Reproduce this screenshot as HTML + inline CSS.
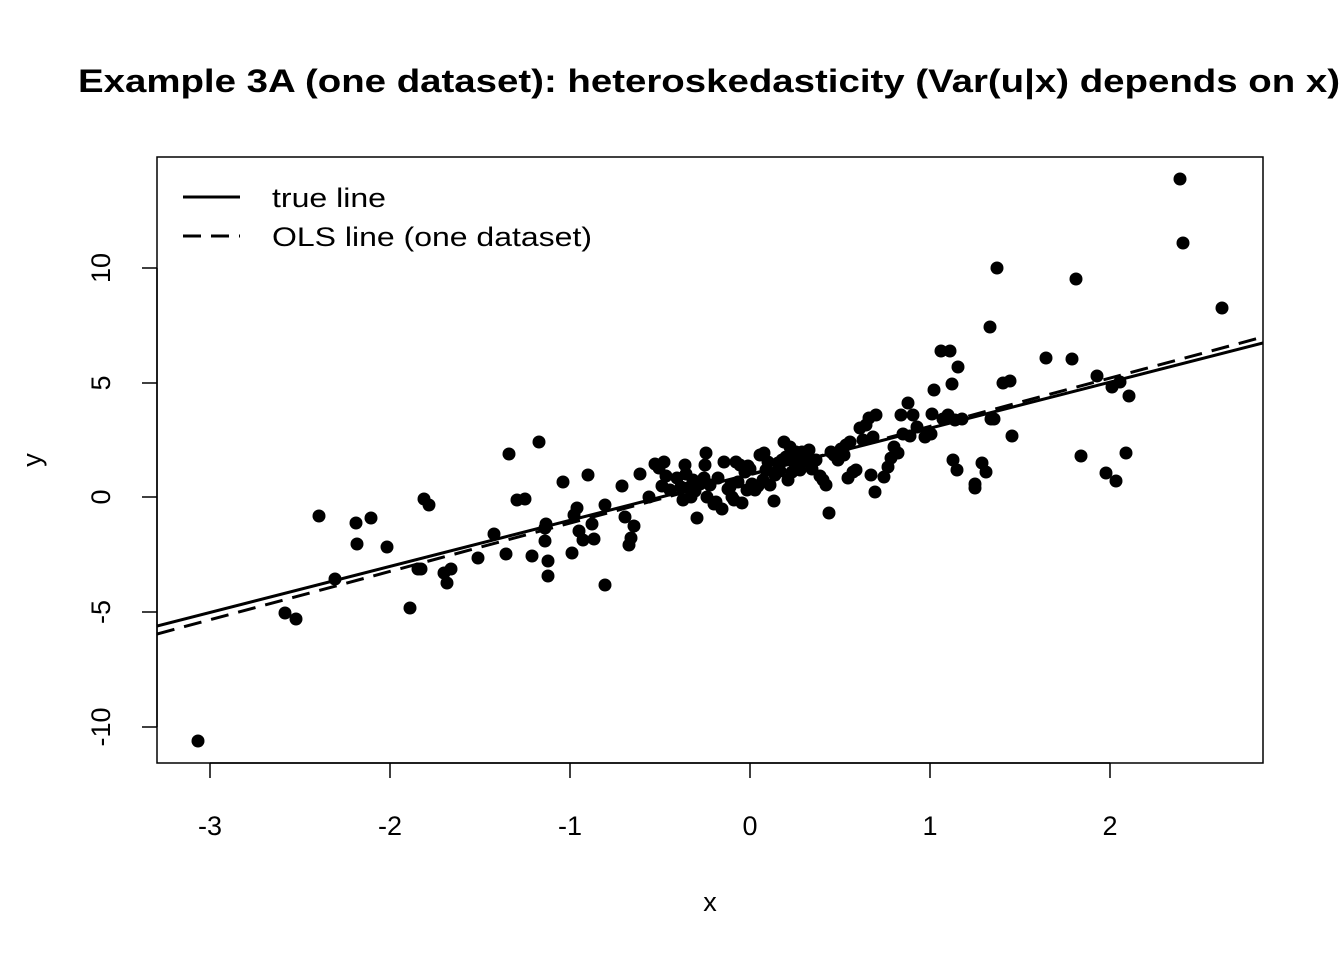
<!DOCTYPE html>
<html><head><meta charset="utf-8"><style>
html,body{margin:0;padding:0;background:#fff}
svg text{font-family:"Liberation Sans",Arial,sans-serif;fill:#000}
</style></head><body>
<svg width="1344" height="960" viewBox="0 0 1344 960" xmlns="http://www.w3.org/2000/svg">
<rect width="1344" height="960" fill="#fff"/>
<text x="78" y="92" font-size="32" font-weight="bold" textLength="1262" lengthAdjust="spacingAndGlyphs">Example 3A (one dataset): heteroskedasticity (Var(u|x) depends on x)</text>
<rect x="157" y="157" width="1106" height="606" fill="none" stroke="#000" stroke-width="1.5"/>
<g stroke="#000" stroke-width="1.5">
<line x1="210" y1="763" x2="1110" y2="763"/>
<line x1="210" y1="763" x2="210" y2="778"/><line x1="390" y1="763" x2="390" y2="778"/><line x1="570" y1="763" x2="570" y2="778"/><line x1="750" y1="763" x2="750" y2="778"/><line x1="930" y1="763" x2="930" y2="778"/><line x1="1110" y1="763" x2="1110" y2="778"/>
<line x1="157" y1="268" x2="157" y2="727"/>
<line x1="142" y1="268" x2="157" y2="268"/><line x1="142" y1="383" x2="157" y2="383"/><line x1="142" y1="497" x2="157" y2="497"/><line x1="142" y1="612" x2="157" y2="612"/><line x1="142" y1="727" x2="157" y2="727"/>
</g>
<g font-size="27" text-anchor="middle">
<text x="210" y="835">-3</text><text x="390" y="835">-2</text><text x="570" y="835">-1</text><text x="750" y="835">0</text><text x="930" y="835">1</text><text x="1110" y="835">2</text>
<text x="710" y="911">x</text>
<text transform="translate(110,268) rotate(-90)">10</text>
<text transform="translate(110,383) rotate(-90)">5</text>
<text transform="translate(110,497) rotate(-90)">0</text>
<text transform="translate(110,612) rotate(-90)">-5</text>
<text transform="translate(110,727) rotate(-90)">-10</text>
<text transform="translate(41,460) rotate(-90)">y</text>
</g>
<clipPath id="c"><rect x="157" y="157" width="1106" height="606"/></clipPath>
<g clip-path="url(#c)" stroke="#000" stroke-width="3">
<line x1="157" y1="626" x2="1263" y2="343"/>
<line x1="157" y1="634" x2="1263" y2="337" stroke-dasharray="18,10"/>
</g>
<g fill="#000">
<circle cx="198" cy="741" r="6.5"/><circle cx="285" cy="613" r="6.5"/><circle cx="296" cy="619" r="6.5"/><circle cx="319" cy="516" r="6.5"/><circle cx="335" cy="579" r="6.5"/><circle cx="356" cy="523" r="6.5"/><circle cx="357" cy="544" r="6.5"/><circle cx="371" cy="518" r="6.5"/><circle cx="387" cy="547" r="6.5"/><circle cx="410" cy="608" r="6.5"/><circle cx="418" cy="569" r="6.5"/><circle cx="421" cy="569" r="6.5"/><circle cx="424" cy="499" r="6.5"/><circle cx="429" cy="505" r="6.5"/><circle cx="444" cy="573" r="6.5"/><circle cx="447" cy="583" r="6.5"/><circle cx="451" cy="569" r="6.5"/><circle cx="478" cy="558" r="6.5"/><circle cx="494" cy="534" r="6.5"/><circle cx="506" cy="554" r="6.5"/><circle cx="509" cy="454" r="6.5"/><circle cx="517" cy="500" r="6.5"/><circle cx="525" cy="499" r="6.5"/><circle cx="532" cy="556" r="6.5"/><circle cx="539" cy="442" r="6.5"/><circle cx="545" cy="528" r="6.5"/><circle cx="545" cy="541" r="6.5"/><circle cx="546" cy="524" r="6.5"/><circle cx="548" cy="561" r="6.5"/><circle cx="548" cy="576" r="6.5"/><circle cx="563" cy="482" r="6.5"/><circle cx="572" cy="553" r="6.5"/><circle cx="574" cy="515" r="6.5"/><circle cx="577" cy="508" r="6.5"/><circle cx="579" cy="531" r="6.5"/><circle cx="583" cy="540" r="6.5"/><circle cx="588" cy="475" r="6.5"/><circle cx="592" cy="524" r="6.5"/><circle cx="594" cy="539" r="6.5"/><circle cx="605" cy="585" r="6.5"/><circle cx="605" cy="505" r="6.5"/><circle cx="622" cy="486" r="6.5"/><circle cx="625" cy="517" r="6.5"/><circle cx="629" cy="545" r="6.5"/><circle cx="631" cy="538" r="6.5"/><circle cx="634" cy="526" r="6.5"/><circle cx="640" cy="474" r="6.5"/><circle cx="649" cy="497" r="6.5"/><circle cx="655" cy="464" r="6.5"/><circle cx="659" cy="468" r="6.5"/><circle cx="662" cy="486" r="6.5"/><circle cx="664" cy="462" r="6.5"/><circle cx="666" cy="476" r="6.5"/><circle cx="670" cy="490" r="6.5"/><circle cx="677" cy="478" r="6.5"/><circle cx="681" cy="487" r="6.5"/><circle cx="683" cy="500" r="6.5"/><circle cx="685" cy="465" r="6.5"/><circle cx="686" cy="474" r="6.5"/><circle cx="688" cy="488" r="6.5"/><circle cx="691" cy="497" r="6.5"/><circle cx="693" cy="480" r="6.5"/><circle cx="695" cy="491" r="6.5"/><circle cx="697" cy="518" r="6.5"/><circle cx="700" cy="484" r="6.5"/><circle cx="704" cy="478" r="6.5"/><circle cx="705" cy="465" r="6.5"/><circle cx="706" cy="453" r="6.5"/><circle cx="707" cy="497" r="6.5"/><circle cx="710" cy="485" r="6.5"/><circle cx="714" cy="504" r="6.5"/><circle cx="716" cy="502" r="6.5"/><circle cx="718" cy="478" r="6.5"/><circle cx="722" cy="509" r="6.5"/><circle cx="724" cy="462" r="6.5"/><circle cx="728" cy="489" r="6.5"/><circle cx="730" cy="487" r="6.5"/><circle cx="732" cy="497" r="6.5"/><circle cx="734" cy="500" r="6.5"/><circle cx="736" cy="462" r="6.5"/><circle cx="738" cy="482" r="6.5"/><circle cx="740" cy="465" r="6.5"/><circle cx="742" cy="503" r="6.5"/><circle cx="745" cy="472" r="6.5"/><circle cx="747" cy="490" r="6.5"/><circle cx="748" cy="466" r="6.5"/><circle cx="750" cy="469" r="6.5"/><circle cx="752" cy="484" r="6.5"/><circle cx="755" cy="490" r="6.5"/><circle cx="758" cy="486" r="6.5"/><circle cx="760" cy="455" r="6.5"/><circle cx="763" cy="480" r="6.5"/><circle cx="764" cy="453" r="6.5"/><circle cx="766" cy="470" r="6.5"/><circle cx="768" cy="462" r="6.5"/><circle cx="770" cy="485" r="6.5"/><circle cx="774" cy="501" r="6.5"/><circle cx="775" cy="475" r="6.5"/><circle cx="778" cy="463" r="6.5"/><circle cx="780" cy="471" r="6.5"/><circle cx="782" cy="460" r="6.5"/><circle cx="784" cy="442" r="6.5"/><circle cx="786" cy="457" r="6.5"/><circle cx="788" cy="480" r="6.5"/><circle cx="790" cy="447" r="6.5"/><circle cx="792" cy="472" r="6.5"/><circle cx="794" cy="462" r="6.5"/><circle cx="796" cy="452" r="6.5"/><circle cx="798" cy="460" r="6.5"/><circle cx="800" cy="470" r="6.5"/><circle cx="802" cy="452" r="6.5"/><circle cx="804" cy="456" r="6.5"/><circle cx="807" cy="461" r="6.5"/><circle cx="809" cy="450" r="6.5"/><circle cx="812" cy="469" r="6.5"/><circle cx="816" cy="460" r="6.5"/><circle cx="820" cy="476" r="6.5"/><circle cx="823" cy="480" r="6.5"/><circle cx="826" cy="485" r="6.5"/><circle cx="829" cy="513" r="6.5"/><circle cx="831" cy="452" r="6.5"/><circle cx="834" cy="455" r="6.5"/><circle cx="838" cy="460" r="6.5"/><circle cx="841" cy="449" r="6.5"/><circle cx="844" cy="455" r="6.5"/><circle cx="846" cy="445" r="6.5"/><circle cx="848" cy="478" r="6.5"/><circle cx="850" cy="442" r="6.5"/><circle cx="853" cy="472" r="6.5"/><circle cx="856" cy="470" r="6.5"/><circle cx="860" cy="428" r="6.5"/><circle cx="863" cy="440" r="6.5"/><circle cx="866" cy="425" r="6.5"/><circle cx="869" cy="418" r="6.5"/><circle cx="871" cy="475" r="6.5"/><circle cx="873" cy="437" r="6.5"/><circle cx="875" cy="492" r="6.5"/><circle cx="876" cy="415" r="6.5"/><circle cx="884" cy="477" r="6.5"/><circle cx="888" cy="467" r="6.5"/><circle cx="891" cy="458" r="6.5"/><circle cx="894" cy="447" r="6.5"/><circle cx="898" cy="453" r="6.5"/><circle cx="901" cy="415" r="6.5"/><circle cx="903" cy="434" r="6.5"/><circle cx="908" cy="403" r="6.5"/><circle cx="910" cy="436" r="6.5"/><circle cx="913" cy="415" r="6.5"/><circle cx="917" cy="427" r="6.5"/><circle cx="925" cy="437" r="6.5"/><circle cx="931" cy="434" r="6.5"/><circle cx="932" cy="414" r="6.5"/><circle cx="934" cy="390" r="6.5"/><circle cx="941" cy="351" r="6.5"/><circle cx="943" cy="419" r="6.5"/><circle cx="948" cy="415" r="6.5"/><circle cx="950" cy="351" r="6.5"/><circle cx="952" cy="384" r="6.5"/><circle cx="953" cy="460" r="6.5"/><circle cx="955" cy="420" r="6.5"/><circle cx="957" cy="470" r="6.5"/><circle cx="958" cy="367" r="6.5"/><circle cx="962" cy="419" r="6.5"/><circle cx="975" cy="488" r="6.5"/><circle cx="975" cy="484" r="6.5"/><circle cx="982" cy="463" r="6.5"/><circle cx="986" cy="472" r="6.5"/><circle cx="990" cy="327" r="6.5"/><circle cx="991" cy="419" r="6.5"/><circle cx="994" cy="419" r="6.5"/><circle cx="997" cy="268" r="6.5"/><circle cx="1003" cy="383" r="6.5"/><circle cx="1010" cy="381" r="6.5"/><circle cx="1012" cy="436" r="6.5"/><circle cx="1046" cy="358" r="6.5"/><circle cx="1072" cy="359" r="6.5"/><circle cx="1076" cy="279" r="6.5"/><circle cx="1081" cy="456" r="6.5"/><circle cx="1097" cy="376" r="6.5"/><circle cx="1106" cy="473" r="6.5"/><circle cx="1112" cy="387" r="6.5"/><circle cx="1116" cy="481" r="6.5"/><circle cx="1120" cy="382" r="6.5"/><circle cx="1126" cy="453" r="6.5"/><circle cx="1129" cy="396" r="6.5"/><circle cx="1180" cy="179" r="6.5"/><circle cx="1183" cy="243" r="6.5"/><circle cx="1222" cy="308" r="6.5"/>
</g>
<g stroke="#000" stroke-width="3">
<line x1="183" y1="197" x2="240" y2="197"/>
<line x1="183" y1="236" x2="240" y2="236" stroke-dasharray="18,10"/>
</g>
<text x="272" y="207" font-size="27" textLength="114" lengthAdjust="spacingAndGlyphs">true line</text>
<text x="272" y="246" font-size="27" textLength="320" lengthAdjust="spacingAndGlyphs">OLS line (one dataset)</text>
</svg>
</body></html>
